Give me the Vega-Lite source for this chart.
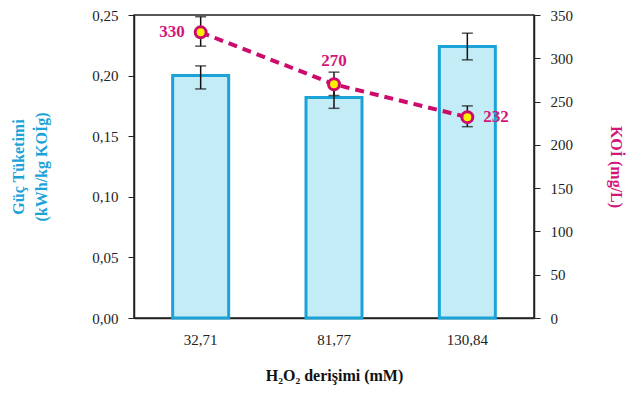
{
  "$schema": "https://vega.github.io/schema/vega-lite/v6.json",
  "width": 400,
  "height": 303,
  "autosize": "none",
  "padding": {"left": 134, "top": 15, "right": 107, "bottom": 76},
  "background": "white",
  "config": {
    "view": {"stroke": "#222", "strokeWidth": 1.5},
    "font": "Liberation Serif",
    "axis": {"labelFont": "Liberation Serif", "titleFont": "Liberation Serif", "labelFontSize": 15, "titleFontSize": 16, "labelColor": "#222", "domainColor": "#222", "tickColor": "#222", "grid": false}
  },
  "data": {
    "values": [
      {"h2o2": "32,71", "guc": 0.200, "guc_lo": 0.189, "guc_hi": 0.208, "koi": 330, "koi_lo": 314, "koi_hi": 348, "lab": "330"},
      {"h2o2": "81,77", "guc": 0.182, "guc_lo": 0.173, "guc_hi": 0.190, "koi": 270, "koi_lo": 257, "koi_hi": 284, "lab": "270"},
      {"h2o2": "130,84", "guc": 0.224, "guc_lo": 0.213, "guc_hi": 0.235, "koi": 232, "koi_lo": 221, "koi_hi": 245, "lab": "232"}
    ]
  },
  "encoding": {
    "x": {
      "field": "h2o2", "type": "nominal", "sort": null,
      "scale": {"paddingInner": 0.58, "paddingOuter": 0.29},
      "axis": {"title": "H₂O₂ derişimi (mM)", "labelAngle": 0, "ticks": false, "labelPadding": 14, "titlePadding": 20, "titleFontWeight": "bold", "titleColor": "#111", "domainWidth": 1.5}
    }
  },
  "layer": [
    {
      "encoding": {
        "y": {"type": "quantitative", "scale": {"domain": [0, 0.25]}, "axis": {"orient": "left", "values": [0, 0.05, 0.1, 0.15, 0.2, 0.25], "labelExpr": "replace(format(datum.value, '.2f'), '.', ',')", "tickSize": 6, "labelPadding": 10, "domainWidth": 1.5, "title": ["Güç  Tüketimi", "(kWh/kg KOİg)"], "titleColor": "#1ba3d8", "titleFontWeight": "bold", "titlePadding": 42, "titleLineHeight": 23}}
      },
      "layer": [
        {"mark": {"type": "bar", "fill": "#c4ecf7", "stroke": "#1ba3d8", "strokeWidth": 3}, "encoding": {"y": {"field": "guc", "type": "quantitative"}}},
        {"mark": {"type": "rule", "color": "#111", "strokeWidth": 1.5}, "encoding": {"y": {"field": "guc_lo", "type": "quantitative"}, "y2": {"field": "guc_hi"}}},
        {"mark": {"type": "tick", "color": "#111", "size": 11, "thickness": 1.5}, "encoding": {"y": {"field": "guc_lo", "type": "quantitative"}}},
        {"mark": {"type": "tick", "color": "#111", "size": 11, "thickness": 1.5}, "encoding": {"y": {"field": "guc_hi", "type": "quantitative"}}}
      ]
    },
    {
      "encoding": {
        "y": {"type": "quantitative", "scale": {"domain": [0, 350]}, "axis": {"orient": "right", "values": [0, 50, 100, 150, 200, 250, 300, 350], "tickSize": 6, "labelPadding": 10, "domainWidth": 1.5, "title": "KOİ (mg/L)", "titleColor": "#d4157a", "titleFontWeight": "bold", "titleAngle": 90, "titlePadding": 35}}
      },
      "layer": [
        {"mark": {"type": "line", "color": "#cc0a6c", "strokeWidth": 4, "strokeDash": [9, 6]}, "encoding": {"y": {"field": "koi", "type": "quantitative"}}},
        {"mark": {"type": "rule", "color": "#111", "strokeWidth": 1.5}, "encoding": {"y": {"field": "koi_lo", "type": "quantitative"}, "y2": {"field": "koi_hi"}}},
        {"mark": {"type": "tick", "color": "#111", "size": 11, "thickness": 1.5}, "encoding": {"y": {"field": "koi_lo", "type": "quantitative"}}},
        {"mark": {"type": "tick", "color": "#111", "size": 11, "thickness": 1.5}, "encoding": {"y": {"field": "koi_hi", "type": "quantitative"}}},
        {"mark": {"type": "point", "filled": true, "fill": "#ffee00", "stroke": "#cc0a6c", "strokeWidth": 3, "size": 120, "opacity": 1}, "encoding": {"y": {"field": "koi", "type": "quantitative"}}},
        {"transform": [{"filter": "datum.lab == '330'"}], "mark": {"type": "text", "color": "#d4157a", "fontWeight": "bold", "fontSize": 17, "align": "right", "baseline": "middle", "dx": -16}, "encoding": {"y": {"field": "koi", "type": "quantitative"}, "text": {"field": "lab"}}},
        {"transform": [{"filter": "datum.lab == '270'"}], "mark": {"type": "text", "color": "#d4157a", "fontWeight": "bold", "fontSize": 17, "align": "center", "baseline": "middle", "dy": -23}, "encoding": {"y": {"field": "koi", "type": "quantitative"}, "text": {"field": "lab"}}},
        {"transform": [{"filter": "datum.lab == '232'"}], "mark": {"type": "text", "color": "#d4157a", "fontWeight": "bold", "fontSize": 17, "align": "left", "baseline": "middle", "dx": 16}, "encoding": {"y": {"field": "koi", "type": "quantitative"}, "text": {"field": "lab"}}}
      ]
    }
  ],
  "resolve": {"scale": {"y": "independent"}}
}
